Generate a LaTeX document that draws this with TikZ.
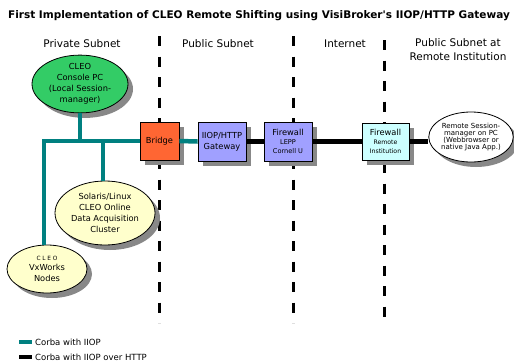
\documentclass[tikz,border=0pt]{standalone}
\usepackage{fontspec}
\setmainfont{DejaVu Sans}
\usetikzlibrary{shapes.geometric,shadows}
\definecolor{busteal}{RGB}{0,128,128}
\definecolor{consgreen}{RGB}{51,204,102}
\definecolor{paleyellow}{RGB}{255,255,204}
\definecolor{bridgered}{RGB}{255,102,51}
\definecolor{lavender}{RGB}{160,160,255}
\definecolor{palecyan}{RGB}{204,255,255}
\definecolor{shadowgray}{RGB}{136,136,136}
\begin{document}
\begin{tikzpicture}[x=1pt,y=-1pt,
  shadowed/.style={drop shadow={shadow xshift=5pt,shadow yshift=-5pt,fill=shadowgray,opacity=1}},
  nodefont/.style={font=\fontsize{8.3}{11}\selectfont},
  oval/.style={ellipse,draw=black,line width=0.8pt,inner sep=0pt,align=center,shadowed,nodefont},
  box/.style={rectangle,draw=black,line width=0.8pt,inner sep=0pt,align=center,shadowed,nodefont},
  iiop/.style={draw=busteal,line width=4.5pt,line join=miter},
  httpline/.style={draw=black,line width=4.5pt},
  zone/.style={draw=black,line width=3pt,dash pattern=on 10pt off 10.5pt},
  header/.style={font=\fontsize{10.5}{14}\selectfont,align=center},
  legendtext/.style={anchor=west,font=\fontsize{8.5}{10}\selectfont,inner sep=0pt}
]
\useasboundingbox (0,0) rectangle (514,362);

% title
\node[font=\bfseries\fontsize{10.5}{12}\selectfont] (title) at (259,16)
  {First Implementation of CLEO Remote Shifting using VisiBroker\textquotesingle s IIOP/HTTP Gateway};

% zone dividers
\draw[zone] (159,36) -- (159,323);
\draw[zone] (293,36) -- (293,323);
\draw[zone] (384,40) -- (384,323);

% headers
\node[header] (hpriv) at (82,44) {Private Subnet};
\node[header] (hpub) at (218,44) {Public Subnet};
\node[header] (hnet) at (345,44) {Internet};
\node[header] (hrem) at (458,50) {Public Subnet at\\Remote Institution};

% nodes
\node[oval,fill=consgreen,minimum width=96pt,minimum height=52pt] (console) at (80,84)
  {CLEO\\Console PC\\(Local Session-\\manager)};
\node[oval,fill=paleyellow,minimum width=100pt,minimum height=64pt] (daq) at (105,213)
  {Solaris/Linux\\CLEO Online\\Data Acquisition\\Cluster};
\node[oval,fill=paleyellow,minimum width=80pt,minimum height=48pt] (vx) at (47,269)
  {{\fontsize{5.8}{7}\selectfont\addfontfeature{LetterSpace=30}CLEO}\\[-1pt]VxWorks\\Nodes};
\node[box,fill=bridgered,minimum width=39pt,minimum height=38pt] (bridge) at (159.5,141) {Bridge};
\node[box,fill=lavender,minimum width=48pt,minimum height=39pt] (gateway) at (222,141.5)
  {IIOP/HTTP\\Gateway};
\node[box,fill=lavender,minimum width=48pt,minimum height=39pt] (fwlepp) at (288,141.5)
  {Firewall\\[-2pt]{\fontsize{6.6}{7}\selectfont LEPP}\\[-2pt]{\fontsize{6.6}{7}\selectfont Cornell U}};
\node[box,fill=palecyan,minimum width=47pt,minimum height=37pt] (fwrem) at (385.5,141.5)
  {Firewall\\[-2pt]{\fontsize{6.2}{7}\selectfont Remote}\\[-2pt]{\fontsize{6.2}{7}\selectfont Institution}};
\node[oval,fill=white,minimum width=68pt,minimum height=50pt,font=\fontsize{7}{7.2}\selectfont] (remote) at (471,137)
  {Remote Session-\\manager on PC\\(Webbrowser or\\native Java App.)};

% bus
\coordinate (busL) at (44,141);
\draw[iiop] (busL |- vx.north) -- (busL) -- (bridge.west);
\draw[iiop] (console.south) -- (console.south |- busL);
\draw[iiop] ([xshift=-2pt]daq.north) -- ([xshift=-2pt]daq.north |- busL);
\draw[iiop] (bridge.east) -- (gateway.west);
\draw[httpline] (gateway.east) -- (gateway.east -| fwlepp.west);
\draw[httpline] (fwlepp.east) -- (fwlepp.east -| fwrem.west);
\draw[httpline] (fwrem.east) -- (fwrem.east -| remote.west);

% legend
\fill[busteal] (19,340) rectangle (32,344);
\node[legendtext] (leg1) at (35,342) {Corba with IIOP};
\fill[black] (19,355) rectangle (32,359);
\node[legendtext] (leg2) at (35,357) {Corba with IIOP over HTTP};
\end{tikzpicture}
\end{document}
